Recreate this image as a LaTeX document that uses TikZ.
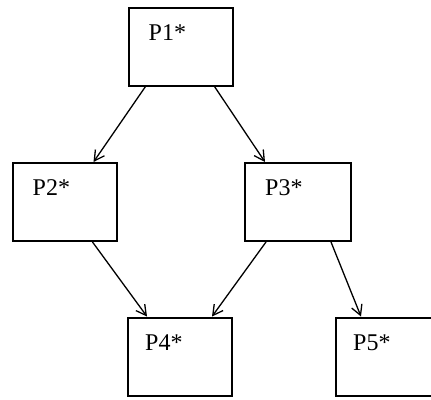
\documentclass[tikz,border=0pt]{standalone}
\usepackage{fontspec}
\usepackage{tikz}
\usetikzlibrary{calc,positioning,arrows.meta}
\newfontfamily\tagfont{Liberation Serif}

\tikzset{
  pbox/.style={draw, line width=2pt, inner sep=0pt, minimum width=104pt, minimum height=78pt},
  ptag/.style={anchor=west, inner sep=0pt, font=\tagfont\fontsize{24}{26}\selectfont},
  flow/.style={line width=1.3pt, -{Straight Barb[length=10pt,width=11pt,line width=1.3pt]}}
}

\begin{document}
\begin{tikzpicture}[x=1pt,y=-1pt]
    \clip (0,0) rectangle (431,399);
    \pgfmathsetmacro{\dx}{21}
    \pgfmathsetmacro{\dy}{26}

    \node[pbox] (p1) at (180.5,46.5) {};
    \node[pbox] (p2) at (64.5,202) {};
    \node[pbox, minimum width=106pt] (p3) at (298,202) {};
    \node[pbox] (p4) at (180,356.5) {};
    \node[pbox] (p5) at (388,356.5) {}; % runs off the right edge

    \node[ptag] (t1) at ($(p1.north west)+(\dx,\dy)$) {P1*};
    \node[ptag] (t2) at ($(p2.north west)+(\dx,\dy)$) {P2*};
    \node[ptag] (t3) at ($(p3.north west)+(\dx,\dy)$) {P3*};
    \node[ptag] (t4) at ($(p4.north west)+(18,\dy)$) {P4*};
    \node[ptag] (t5) at ($(p5.north west)+(18,\dy)$) {P5*};

    \draw[flow] ($(p1.south west)+(18,0)$) -- ($(p2.north west)+(82,0)$);
    \draw[flow] ($(p1.south west)+(87,0)$) -- ($(p3.north west)+(21,0)$);
    \draw[flow] ($(p2.south west)+(81,0)$) -- ($(p4.north west)+(20,0)$);
    \draw[flow] ($(p3.south west)+(22,0)$) -- ($(p4.north west)+(85,0)$);
    \draw[flow] ($(p3.south west)+(87,0)$) -- ($(p5.north west)+(26,0)$);
  \end{tikzpicture}
\end{document}
